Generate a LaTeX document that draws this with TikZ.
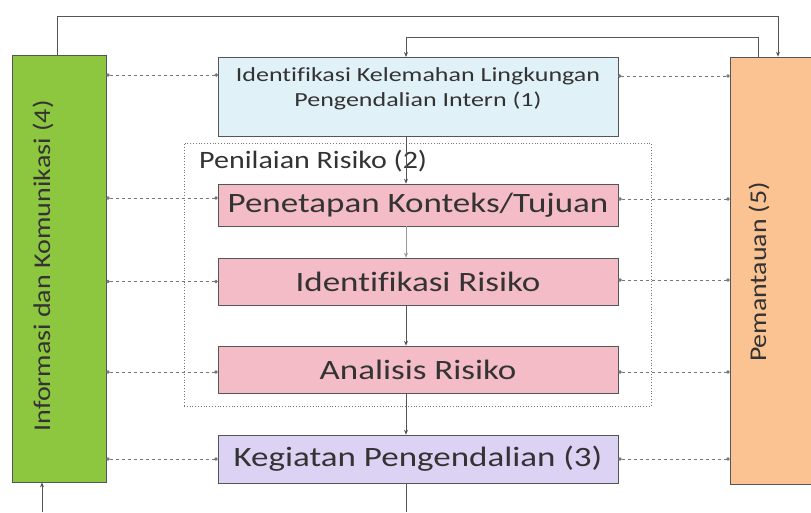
\documentclass[tikz,border=0pt]{standalone}
\usepackage{fontspec}
\setmainfont{Carlito}[Ligatures=CommonOff]
\usetikzlibrary{arrows.meta,calc}
\definecolor{gbox}{HTML}{8DC63F}
\definecolor{obox}{HTML}{FBC392}
\definecolor{bbox}{HTML}{E1F1F8}
\definecolor{pbox}{HTML}{F4BCC6}
\definecolor{lbox}{HTML}{DCD3F4}
\definecolor{txt}{HTML}{333333}
\definecolor{ln}{HTML}{555555}
\newcommand{\hs}[2]{\scalebox{#1}[1]{#2}}
\tikzset{
  box/.style={draw=ln, line width=0.6pt, inner sep=0pt, text=txt, align=center},
  bigtxt/.style={font=\fontsize{28}{32}\selectfont},
  flow/.style={draw=ln, line width=0.7pt, -{Stealth[length=5pt,width=4pt]}},
  plain/.style={draw=ln, line width=0.7pt},
  dlink/.style={draw=ln!80, line width=0.6pt, dash pattern=on 3pt off 3pt,
     {Circle[length=3.5pt]}-{Circle[length=3.5pt]}},
}
\begin{document}
\begin{tikzpicture}[x=1pt,y=-1pt]
\useasboundingbox (0,0) rectangle (811,512);
\fill[white] (0,0) rectangle (811,512);
% dotted frame
\node[draw=ln!80, dotted, line width=0.8pt, minimum width=467pt, minimum height=263pt, inner sep=0pt] (frame) at (417.5,274.5) {};
\node[anchor=base west, text=txt, font=\fontsize{25}{28}\selectfont, inner sep=0pt] (plabel) at (199,168) {\hs{1.2}{Penilaian Risiko (2)}};
% side boxes
\node[box, fill=gbox, minimum width=94pt, minimum height=427pt] (green) at (59,268.5) {};
\node[text=txt, rotate=90, font=\fontsize{24}{27}\selectfont, inner sep=0pt] (gtext) at (43,266) {\hs{1.17}{Informasi dan Komunikasi (4)}};
\node[box, fill=obox, minimum width=84pt, minimum height=427pt] (orange) at (772,270.5) {};
\node[text=txt, rotate=90, font=\fontsize{24}{27}\selectfont, inner sep=0pt] (otext) at (759,272) {\hs{1.16}{Pemantauan (5)}};
% central boxes
\node[box, fill=bbox, minimum width=400pt, minimum height=79pt, anchor=north] (blue) at (418,57) {};
\node[text=txt, font=\fontsize{20}{25}\selectfont, inner sep=0pt] (btext) at (418,89) {\hs{1.3}{\begin{tabular}{@{}c@{}}Identifikasi Kelemahan Lingkungan\\Pengendalian Intern (1)\end{tabular}}};
\node[box, fill=pbox, minimum width=400pt, minimum height=42pt, bigtxt] (pen) at (418,205) {\hs{1.25}{Penetapan Konteks/Tujuan}};
\node[box, fill=pbox, minimum width=400pt, minimum height=47pt, bigtxt] (ide) at (418,281.5) {\hs{1.25}{Identifikasi Risiko}};
\node[box, fill=pbox, minimum width=400pt, minimum height=47pt, bigtxt] (ana) at (418,369.5) {\hs{1.25}{Analisis Risiko}};
\node[box, fill=lbox, minimum width=400pt, minimum height=48pt, bigtxt] (keg) at (418,459) {\hs{1.25}{Kegiatan Pengendalian (3)}};
% helper coordinates
\coordinate (cx) at (406,0);
\coordinate (xa) at (778,16);
\coordinate (xb) at (758,37);
\coordinate (gl) at (42,512);
\coordinate (bot) at (406,512);
\coordinate (b1) at (218,75);
\coordinate (b2) at (618,76);
% central flow
\draw[flow] (blue.south -| cx) -- (pen.north -| cx);
\draw[flow, draw=ln!60, line width=0.5pt] (pen.south -| cx) -- (ide.north -| cx);
\draw[flow] (ide.south -| cx) -- (ana.north -| cx);
\draw[flow] (ana.south -| cx) -- (keg.north -| cx);
\draw[plain] (keg.south -| cx) -- (bot);
\draw[flow] (gl) -- (green.south -| gl);
% top loops
\draw[flow] ($(green.north)+(-2,0)$) |- (xa) -- (orange.north -| xa);
\draw[flow] (orange.north -| xb) -- (xb) -| (blue.north -| cx);
% dashed links left
\draw[dlink] (green.east |- b1) -- (b1);
\draw[dlink] (green.east |- 0,198) -- (pen.west |- 0,198);
\draw[dlink] (green.east |- ide.west) -- (ide.west);
\draw[dlink] (green.east |- 0,372) -- (ana.west |- 0,372);
\draw[dlink] (green.east |- keg.west) -- (keg.west);
% dashed links right
\draw[dlink] (b2) -- (orange.west |- b2);
\draw[dlink] (pen.east |- 0,199) -- (orange.west |- 0,199);
\draw[dlink] (ide.east |- 0,280) -- (orange.west |- 0,280);
\draw[dlink] (ana.east |- 0,372) -- (orange.west |- 0,372);
\draw[dlink] (keg.east) -- (orange.west |- keg.east);
\end{tikzpicture}
\end{document}
